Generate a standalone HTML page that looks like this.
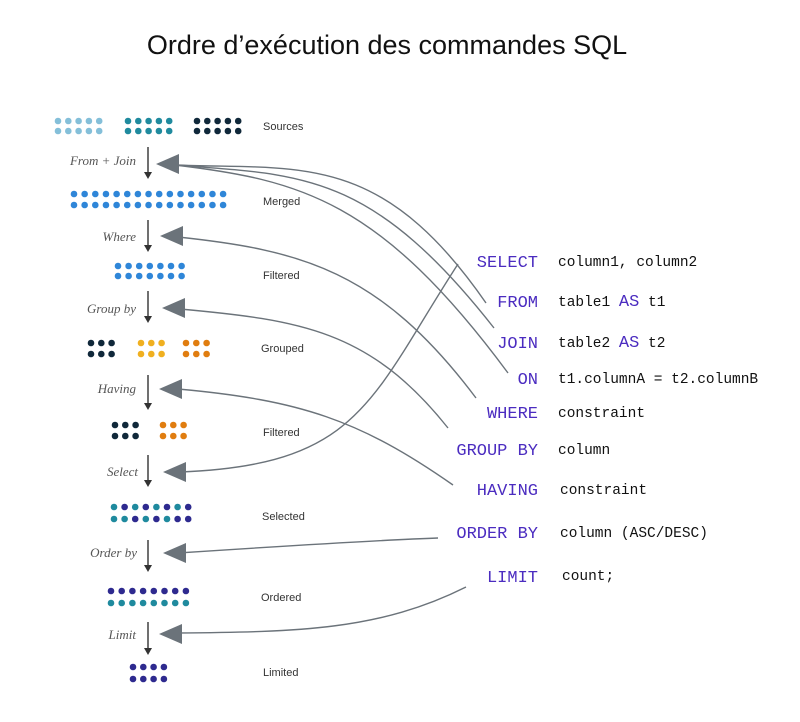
<!DOCTYPE html>
<html><head><meta charset="utf-8"><style>
body{margin:0;background:#fff;}
svg{display:block}
.t{font-family:"Liberation Sans",sans-serif;font-size:27px;fill:#111}
.lab{font-family:"Liberation Sans",sans-serif;font-size:11px;fill:#333}
.hw{font-family:"Liberation Serif",serif;font-style:italic;font-size:13px;fill:#555}
.kw{font-family:"Liberation Mono",monospace;font-size:17px;fill:#4b2cc0}
.v{font-family:"Liberation Mono",monospace;font-size:14.5px;fill:#111}
.c{fill:none;stroke:#6b737a;stroke-width:1.4}
</style></head><body>
<svg id="s" width="800" height="722" viewBox="0 0 800 722" xmlns="http://www.w3.org/2000/svg">
<text class="t" x="387" y="54" text-anchor="middle">Ordre d’exécution des commandes SQL</text>
<g id="dots"></g>
<g fill="#333" stroke="#333" stroke-width="1.4">
<line x1="148" y1="147" x2="148" y2="176"/><polygon points="144,172 152,172 148,179" stroke="none"/>
<line x1="148" y1="220" x2="148" y2="249"/><polygon points="144,245 152,245 148,252" stroke="none"/>
<line x1="148" y1="291" x2="148" y2="320"/><polygon points="144,316 152,316 148,323" stroke="none"/>
<line x1="148" y1="375" x2="148" y2="407"/><polygon points="144,403 152,403 148,410" stroke="none"/>
<line x1="148" y1="455" x2="148" y2="484"/><polygon points="144,480 152,480 148,487" stroke="none"/>
<line x1="148" y1="540" x2="148" y2="569"/><polygon points="144,565 152,565 148,572" stroke="none"/>
<line x1="148" y1="622" x2="148" y2="652"/><polygon points="144,648 152,648 148,655" stroke="none"/>
</g>
<text class="hw" x="136" y="165" text-anchor="end">From + Join</text>
<text class="hw" x="136" y="241" text-anchor="end">Where</text>
<text class="hw" x="136" y="313" text-anchor="end">Group by</text>
<text class="hw" x="136" y="393" text-anchor="end">Having</text>
<text class="hw" x="138" y="476" text-anchor="end">Select</text>
<text class="hw" x="137" y="557" text-anchor="end">Order by</text>
<text class="hw" x="136" y="639" text-anchor="end">Limit</text>
<g class="lab">
<text x="263" y="130">Sources</text><text x="263" y="205">Merged</text>
<text x="263" y="279">Filtered</text><text x="261" y="352">Grouped</text>
<text x="263" y="436">Filtered</text><text x="262" y="520">Selected</text>
<text x="261" y="601">Ordered</text><text x="263" y="676">Limited</text>
</g>
<g>
<path class="c" d="M175,165 C300,170 380,150 486,303"/>
<path class="c" d="M175,165 C300,175 370,170 494,328"/>
<path class="c" d="M175,165 C300,180 380,200 508,373"/>
<path class="c" d="M178,237 C300,250 380,270 476,398"/>
<path class="c" d="M180,309 C300,320 370,330 448,428"/>
<path class="c" d="M178,389 C300,400 360,420 453,485"/>
<path class="c" d="M458,264 C370,400 360,465 180,472"/>
<path class="c" d="M178,553 C300,545 380,540 438,538"/>
<path class="c" d="M176,633 C300,632 380,630 466,587"/>
</g>
<g fill="#6b737a">
<polygon points="156,164 179,154 179,174"/>
<polygon points="160,236 183,226 183,246"/>
<polygon points="162,308 185,298 185,318"/>
<polygon points="159,389 182,379 182,399"/>
<polygon points="163,472 186,462 186,482"/>
<polygon points="163,553 186,543 186,563"/>
<polygon points="159,634 182,624 182,644"/>
</g>
<g class="kw" text-anchor="end">
<text x="538" y="267">SELECT</text><text x="538" y="307">FROM</text>
<text x="538" y="348">JOIN</text><text x="538" y="384">ON</text>
<text x="538" y="418">WHERE</text><text x="538" y="455">GROUP BY</text>
<text x="538" y="495">HAVING</text><text x="538" y="538">ORDER BY</text>
<text x="538" y="582">LIMIT</text>
</g>
<g class="v">
<text x="558" y="266">column1, column2</text>
<text x="558" y="306">table1 <tspan class="kw" style="font-size:17px">AS</tspan> t1</text>
<text x="558" y="347">table2 <tspan class="kw" style="font-size:17px">AS</tspan> t2</text>
<text x="558" y="383">t1.columnA = t2.columnB</text>
<text x="558" y="417">constraint</text>
<text x="558" y="454">column</text>
<text x="560" y="494">constraint</text>
<text x="560" y="537">column (ASC/DESC)</text>
<text x="562" y="580">count;</text>
</g>
</svg>
<script>
var g=document.getElementById('dots'),ns='http://www.w3.org/2000/svg';
function row(x0,n,y,cols,sp){sp=sp||10.3;for(var i=0;i<n;i++){var c=document.createElementNS(ns,'circle');c.setAttribute('cx',x0+i*sp);c.setAttribute('cy',y);c.setAttribute('r',3.3);c.setAttribute('fill',typeof cols=='string'?cols:cols[i%cols.length]);g.appendChild(c);}}
function blk(x0,n,y1,y2,c1,c2,sp){row(x0,n,y1,c1,sp);row(x0,n,y2,c2||c1,sp);}
var LB='#84bfd9',TE='#1f8a9e',DK='#10283a',BL='#2f86d8',YE='#f0b020',OR='#e07d10',IN='#2e2a8f';
blk(58,5,121,131,LB);blk(128,5,121,131,TE);blk(197,5,121,131,DK);
blk(74,15,194,205,BL,BL,10.65);
blk(118,7,266,276,BL,BL,10.6);
blk(91,3,343,354,DK);blk(141,3,343,354,YE);blk(186,3,343,354,OR);
blk(115,3,425,436,DK);blk(163,3,425,436,OR);
row(114,8,507,[TE,IN],10.6);row(114,8,519,[TE,TE,IN,TE,IN,TE,IN,IN],10.6);
row(111,8,591,IN,10.7);row(111,8,603,TE,10.7);
blk(133,4,667,679,IN);
</script>
</body></html>
